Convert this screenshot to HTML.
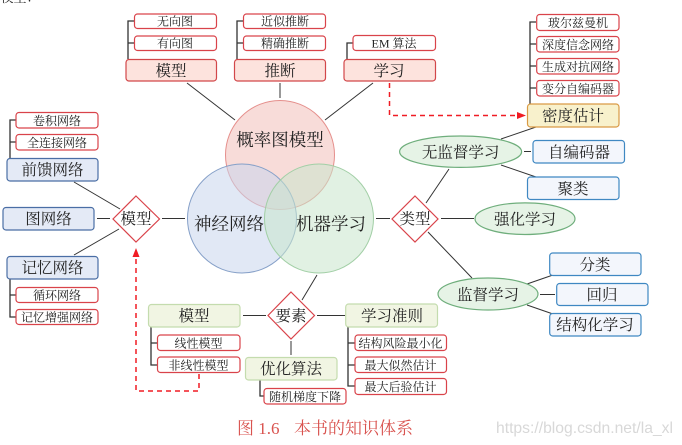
<!DOCTYPE html>
<html><head><meta charset="utf-8">
<style>
html,body{margin:0;padding:0;background:#fff;width:682px;height:445px;overflow:hidden}
svg{display:block}
text{font-family:"Liberation Serif","Noto Serif CJK SC",serif;text-anchor:middle;fill:#222}
.s{font-size:12px}
.m{font-size:15.5px}
.l{font-size:18px}
.sb{fill:#fff;stroke:#d9434a;stroke-width:1.2}
.r{fill:#fde3dd;stroke:#d2474a;stroke-width:1.2}
.b{fill:#e4eaf6;stroke:#4a6ea5;stroke-width:1.2}
.lb{fill:#f3f6fc;stroke:#3f88c2;stroke-width:1.2}
.g{fill:#f1f5e3;stroke:#c4dcae;stroke-width:1.2}
.o{fill:#f8f1cc;stroke:#d99a45;stroke-width:1.2}
.e{fill:#e6f3e6;stroke:#6fae7c;stroke-width:1.2}
.d{fill:#fff;stroke:#d9434a;stroke-width:1.2}
.c{fill:none;stroke:#333;stroke-width:1}
.k{fill:none;stroke:#333;stroke-width:1.3}
.red{fill:none;stroke:#f01c24;stroke-width:1.5;stroke-dasharray:5 4}
</style></head><body>
<svg width="682" height="445" viewBox="0 0 682 445" xmlns="http://www.w3.org/2000/svg">
<text x="20" y="2" style="font-size:13px">模型：</text>

<!-- venn -->
<circle cx="280" cy="155" r="54.5" fill="#f6d0cc" fill-opacity=".75" stroke="#e58f8c"/>
<circle cx="242" cy="218.5" r="54.5" fill="#c9d5ec" fill-opacity=".55" stroke="#86a0c8"/>
<circle cx="319" cy="218.5" r="54.5" fill="#c9e6cc" fill-opacity=".55" stroke="#a2cfa6"/>
<text class="l" x="280" y="146" style="font-size:17.5px">概率图模型</text>
<text class="l" x="229" y="230" style="font-size:17.5px">神经网络</text>
<text class="l" x="331" y="230" style="font-size:17.5px">机器学习</text>

<!-- connectors -->
<path class="c" d="M187 83L235 120M280 83V98M373 83L325 120M74 182L120 209M97 218.5H110M162 218.5H185M74 255L119 229M317 315.5H345M243 315.500H266M291 341V355M302 300L317 275M376 218.500H390M426 203L449 169M441 218.500H474M428 232L472 278M501 139L536 127M501 165L536 177M524 151.500H531M527 284L553 275M540 294.500H555M527 305L553 314"/>
<path class="k" d="M128 59V21H134M128 43H134M237 59V21H243M237 43H243M347 59V43H353M530 104V22H536M530 44H536M530 66H536M530 88H536M10 158V120H16M10 142H16M10 279V317H16M10 295H16M151 327V365H157M151 343H157M348 327V386H355M348 343H355M348 365H355M260 380V396H264"/>

<!-- red dashes -->
<path class="red" d="M389.500 83V115.500H520"/>
<path d="M526 115.500L517 112V119Z" fill="#f01c24"/>
<path class="red" d="M199 374V391H136V255"/>
<path d="M136 248L132.500 257H139.500Z" fill="#f01c24"/>

<!-- top boxes -->
<rect class="sb" x="134.500" y="14" width="82" height="14.500" rx="3"/><text class="s" x="175" y="25.500">无向图</text>
<rect class="sb" x="134.500" y="36" width="82" height="14.500" rx="3"/><text class="s" x="175" y="47.500">有向图</text>
<rect class="r" x="126" y="59.500" width="90.500" height="21.500" rx="3"/><text class="m" x="171" y="76">模型</text>
<rect class="sb" x="243.500" y="14" width="82" height="14.500" rx="3"/><text class="s" x="285" y="25.500">近似推断</text>
<rect class="sb" x="243.500" y="36" width="82" height="14.500" rx="3"/><text class="s" x="285" y="47.500">精确推断</text>
<rect class="r" x="234.500" y="59.500" width="91" height="21.500" rx="3"/><text class="m" x="280" y="76">推断</text>
<rect class="sb" x="353" y="35.500" width="82.500" height="15" rx="3"/><text class="s" x="394" y="47.500">EM 算法</text>
<rect class="r" x="344" y="59.500" width="91.500" height="21.500" rx="3"/><text class="m" x="389" y="76">学习</text>

<!-- left boxes -->
<rect class="sb" x="16" y="112.500" width="82" height="15.500" rx="3"/><text class="s" x="57" y="125">卷积网络</text>
<rect class="sb" x="16" y="134.500" width="82" height="15.500" rx="3"/><text class="s" x="57" y="147">全连接网络</text>
<rect class="b" x="7" y="158.500" width="91" height="22.500" rx="3"/><text class="m" x="52.500" y="175">前馈网络</text>
<rect class="b" x="3" y="207.500" width="91" height="22.500" rx="3"/><text class="m" x="48.500" y="224">图网络</text>
<rect class="b" x="7" y="256.500" width="91" height="22.500" rx="3"/><text class="m" x="52.500" y="273">记忆网络</text>
<rect class="sb" x="16" y="287.500" width="82" height="15" rx="3"/><text class="s" x="57" y="299.500">循环网络</text>
<rect class="sb" x="16" y="309.500" width="82" height="15" rx="3"/><text class="s" x="57" y="321.500">记忆增强网络</text>

<!-- diamonds -->
<path class="d" d="M136 196L159.500 219L136 242L113 219Z"/><text class="m" x="136" y="224">模型</text>
<path class="d" d="M291 292L314.500 315.500L291 339L268 315.500Z"/><text class="m" x="291" y="321">要素</text>
<path class="d" d="M415 196L438 219L415 242L392 219Z"/><text class="m" x="415" y="224">类型</text>

<!-- bottom boxes -->
<rect class="g" x="148.500" y="304.500" width="91.500" height="22.500" rx="3"/><text class="m" x="194" y="321">模型</text>
<rect class="sb" x="157.500" y="335" width="82.500" height="15.500" rx="3"/><text class="s" x="198.500" y="347.500">线性模型</text>
<rect class="sb" x="157.500" y="357" width="82.500" height="15.500" rx="3"/><text class="s" x="198.500" y="369.500">非线性模型</text>
<rect class="g" x="245.500" y="357.500" width="91.500" height="22.500" rx="3"/><text class="m" x="291" y="374">优化算法</text>
<rect class="sb" x="264" y="388.500" width="82" height="15.500" rx="3"/><text class="s" x="305" y="401">随机梯度下降</text>
<rect class="g" x="345.700" y="304" width="91.800" height="23" rx="3"/><text class="m" x="392" y="321">学习准则</text>
<rect class="sb" x="355" y="335" width="91.500" height="15.500" rx="3"/><text class="s" x="400.500" y="347.500">结构风险最小化</text>
<rect class="sb" x="355" y="357" width="91.500" height="15.500" rx="3"/><text class="s" x="400.500" y="369.500">最大似然估计</text>
<rect class="sb" x="355" y="378.500" width="91.500" height="16" rx="3"/><text class="s" x="400.500" y="391">最大后验估计</text>

<!-- right boxes -->
<rect class="sb" x="536.700" y="14.500" width="82.300" height="16" rx="3"/><text class="s" x="578" y="27">玻尔兹曼机</text>
<rect class="sb" x="536.700" y="36.500" width="82.300" height="15.500" rx="3"/><text class="s" x="578" y="49">深度信念网络</text>
<rect class="sb" x="536.700" y="58.500" width="82.300" height="15.500" rx="3"/><text class="s" x="578" y="71">生成对抗网络</text>
<rect class="sb" x="536.700" y="80.500" width="82.300" height="15.500" rx="3"/><text class="s" x="578" y="93">变分自编码器</text>
<rect class="o" x="527.500" y="104" width="91.500" height="23" rx="3"/><text class="m" x="573" y="121">密度估计</text>
<ellipse class="e" cx="460.600" cy="151.700" rx="61" ry="15.700"/><text class="m" x="460.600" y="157.500">无监督学习</text>
<rect class="lb" x="533" y="140.500" width="91.500" height="22.500" rx="3"/><text class="m" x="579" y="157.500">自编码器</text>
<rect class="lb" x="527.500" y="177" width="91.500" height="22.500" rx="3"/><text class="m" x="573" y="194">聚类</text>
<ellipse class="e" cx="525" cy="218.700" rx="50" ry="15.800"/><text class="m" x="525" y="224.500">强化学习</text>
<ellipse class="e" cx="488" cy="294" rx="50" ry="16"/><text class="m" x="488" y="300">监督学习</text>
<rect class="lb" x="549.700" y="253" width="91.300" height="22.500" rx="3"/><text class="m" x="595" y="270">分类</text>
<rect class="lb" x="556.700" y="283.500" width="91.300" height="22" rx="3"/><text class="m" x="602" y="300">回归</text>
<rect class="lb" x="549.700" y="313.500" width="91.300" height="22.500" rx="3"/><text class="m" x="595" y="330">结构化学习</text>

<!-- caption -->
<text x="237" y="434" style="font-size:17px;fill:#d9534f;text-anchor:start">图 1.6</text>
<text x="294" y="434" style="font-size:17px;fill:#d9534f;text-anchor:start">本书的知识体系</text>
<text x="584.500" y="433" style="font-family:'Liberation Sans',sans-serif;font-size:15.700px;fill:#d8d8d8">https://blog.csdn.net/la_xl</text>
</svg>
</body></html>
